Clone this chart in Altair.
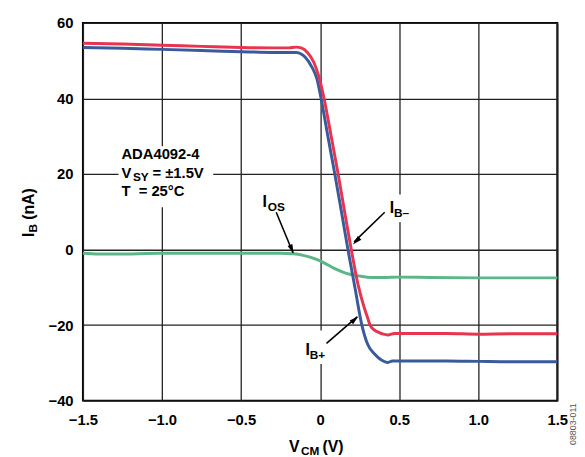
import altair as alt
import pandas as pd

# ---------------- data ----------------
# I_B-  (red)
vm_bneg = [-1.5, -1.25, -1.0, -0.75, -0.5, -0.3, -0.2, -0.15, -0.12, -0.08, -0.04, -0.01,
           0.025, 0.07, 0.114, 0.155, 0.197, 0.24, 0.28, 0.3, 0.316, 0.34, 0.374, 0.40,
           0.43, 0.47, 0.6, 0.8, 1.0, 1.2, 1.5]
ib_neg = [54.6, 54.4, 54.1, 53.8, 53.5, 53.4, 53.4, 53.6, 53.4, 52.2, 49.6, 46.1,
          40.0, 30.0, 20.0, 10.0, 0.0, -9.3, -15.5, -18.0, -20.0, -21.2, -22.0, -22.4,
          -22.6, -22.2, -22.2, -22.2, -22.4, -22.3, -22.3]

# I_B+  (blue)
vm_bpos = [-1.5, -1.25, -1.0, -0.75, -0.5, -0.3, -0.2, -0.15, -0.12, -0.094, -0.052, -0.02,
           0.006, 0.05, 0.093, 0.135, 0.176, 0.22, 0.264, 0.30, 0.343, 0.39, 0.426, 0.457,
           0.6, 0.8, 1.0, 1.2, 1.5]
ib_pos = [53.5, 53.3, 53.0, 52.7, 52.4, 52.2, 52.2, 52.2, 51.8, 50.9, 48.3, 45.2,
          40.0, 29.8, 20.0, 10.0, 0.0, -10.0, -20.0, -25.0, -27.6, -29.3, -29.9, -29.5,
          -29.5, -29.5, -29.6, -29.7, -29.7]

# I_OS  (green)
vm_os = [-1.5, -1.4, -1.3, -1.0, -0.5, -0.25, -0.17, -0.1, -0.05, 0.0, 0.05, 0.1, 0.166,
         0.25, 0.32, 0.4, 0.5, 0.7, 1.0, 1.2, 1.5]
i_os = [-1.0, -1.2, -1.2, -1.0, -1.0, -1.0, -1.1, -1.6, -2.2, -3.0, -4.1, -5.2, -6.3,
        -7.0, -7.4, -7.4, -7.3, -7.4, -7.5, -7.5, -7.5]

x_ticks = [-1.5, -1.0, -0.5, 0, 0.5, 1.0, 1.5]
y_ticks = [-40, -20, 0, 20, 40, 60]

# annotation texts (data coordinates)
ann_text = ["ADA4092-4", "V", "SY", "= ±1.5V", "T\u00a0\u00a0= 25°C",
            "I", "OS", "I", "B–", "I", "B+"]
ann_v = [-1.2568, -1.2568, -1.1838, -1.0603, -1.2568,
         -0.3649, -0.3306, 0.4397, 0.4678, -0.0923, -0.0655]
ann_i = [23.97, 19.01, 18.09, 19.01, 14.05,
         11.17, 10.26, 9.61, 8.69, -27.99, -28.90]
ann_size = [15, 15, 12, 15, 15, 16, 12, 16, 12, 16, 12]

# arrows
arr_v1 = [-0.2776, 0.4085, 0.0405]
arr_i1 = [9.87, 9.87, -24.86]
arr_v2 = [-0.1715, 0.2152, 0.2339]
arr_i2 = [-0.84, 2.04, -17.80]
head_v = [-0.183, 0.2355, 0.2125]
head_i = [0.45, 2.5, -18.74]
head_ang = [157.5, 226, 49]

# white label backgrounds (break the grid)
box_v1 = [-1.275, 0.421, -0.115]
box_v2 = [-0.676, 0.583, 0.059]
box_i1 = [27.36, 14.57, -21.46]
box_i2 = [11.17, 7.26, -30.32]

FONT = "Liberation Sans"

xs = alt.Scale(domain=[-1.5, 1.5], nice=False, zero=False)
ys = alt.Scale(domain=[-40, 60], nice=False, zero=False)

xaxis = alt.Axis(values=x_ticks, grid=True, gridColor="#222222", gridWidth=1.3,
                 ticks=False, domain=False, title=None, labelFont=FONT,
                 labelFontWeight="bold", labelFontSize=15, labelColor="black",
                 labelPadding=12, labelFlush=False, labelOverlap=False,
                 labelExpr="datum.value == 0 ? '0' : format(datum.value, '.1f')")
yaxis = alt.Axis(values=y_ticks, grid=True, gridColor="#222222", gridWidth=1.3,
                 ticks=False, domain=False, title=None, labelFont=FONT,
                 labelFontWeight="bold", labelFontSize=15, labelColor="black",
                 labelPadding=10, labelFlush=False, labelOverlap=False,
                 labelExpr="format(datum.value, 'd')")

X = alt.X("V:Q", scale=xs, axis=xaxis)
Y = alt.Y("I:Q", scale=ys, axis=yaxis)

boxes = alt.Chart(pd.DataFrame({"V": box_v1, "V2": box_v2, "I": box_i1, "I2": box_i2})
                  ).mark_rect(color="white").encode(x=X, x2="V2:Q", y=Y, y2="I2:Q")


def curve(v, i, color):
    return alt.Chart(pd.DataFrame({"V": v, "I": i})).mark_line(
        color=color, strokeWidth=3, interpolate="monotone").encode(x=X, y=Y)


green = curve(vm_os, i_os, "#5DB68A")
blue = curve(vm_bpos, ib_pos, "#3A5A9C")
red = curve(vm_bneg, ib_neg, "#E8344F")

arrows = alt.Chart(pd.DataFrame({"V": arr_v1, "I": arr_i1, "V2": arr_v2, "I2": arr_i2})
                   ).mark_rule(color="black", strokeWidth=1.6).encode(
    x=X, y=Y, x2="V2:Q", y2="I2:Q")

heads = alt.Chart(pd.DataFrame({"V": head_v, "I": head_i, "ang": head_ang})).mark_point(
    shape="M0,-1.2L0.5,0.6L-0.5,0.6Z", filled=True, color="black", opacity=1,
    size=110).encode(x=X, y=Y, angle=alt.Angle("ang:Q", scale=None))

texts = alt.Chart(pd.DataFrame({"V": ann_v, "I": ann_i, "t": ann_text, "s": ann_size})
                  ).mark_text(align="left", baseline="alphabetic", font=FONT,
                              fontWeight="bold", color="black").encode(
    x=X, y=Y, text="t:N", size=alt.Size("s:Q", scale=None))


def ptext(txt, x, y, size, angle=0, weight="bold", color="black"):
    return alt.Chart(pd.DataFrame({"t": [txt]})).mark_text(
        align="left", baseline="alphabetic", font=FONT, fontWeight=weight,
        fontSize=size, angle=angle, color=color).encode(
        x=alt.value(x), y=alt.value(y), text="t:N")


titles = [
    ptext("V", 209, 435, 16),
    ptext("CM", 221, 438.5, 12),
    ptext("(V)", 243, 435, 16),
    ptext("I", -50, 217, 16, angle=270),
    ptext("B", -46.5, 212.6, 12, angle=270),
    ptext("(nA)", -50, 199.6, 16, angle=270),
    ptext("08803-011", 500, 428, 9, angle=270, weight="normal", color="#555555"),
]

chart = alt.layer(boxes, green, blue, red, arrows, heads, texts, *titles).properties(
    width=481, height=383,
    autosize=alt.AutoSizeParams(type="none"),
    padding={"left": 76, "top": 12, "right": 20, "bottom": 54},
).configure_view(stroke="black", strokeWidth=2)

chart.save("out.html", embed_options={"renderer": "svg", "actions": False})
